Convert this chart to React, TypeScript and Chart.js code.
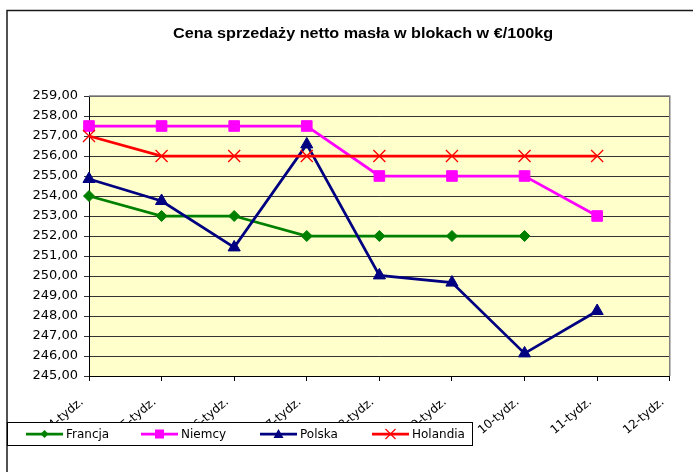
import React, { useEffect, useRef } from "react";
import { Chart, registerables } from "chart.js";

Chart.register(...registerables);

const titleText = "Cena sprzedaży netto masła w blokach w €/100kg";
const categories = ["4-tydz.", "5-tydz.", "6-tydz.", "7-tydz.", "8-tydz.", "9-tydz.", "10-tydz.", "11-tydz.", "12-tydz."];
const seriesNames = ["Francja", "Niemcy", "Polska", "Holandia"];
const francja = [254, 253, 253, 252, 252, 252, 252, null, null];
const niemcy = [257.5, 257.5, 257.5, 257.5, 255, 255, 255, 253, null];
const polska = [254.85, 253.75, 251.43, 256.58, 250.03, 249.67, 246.13, 248.25, null];
const holandia = [257, 256, 256, 256, 256, 256, 256, 256, null];
const yMin = 245;
const yMax = 259;
const yStep = 1;

const colors = ["#008000", "#FF00FF", "#000080", "#FF0000"];
const styles = ["rectRot", "rect", "triangle", "crossRot"];
const FONT = "'DejaVu Sans', Arial, sans-serif";

function drawMarker(ctx: CanvasRenderingContext2D, style: string, x: number, y: number, color: string) {
  ctx.save();
  ctx.fillStyle = color;
  ctx.strokeStyle = color;
  ctx.beginPath();
  if (style === "rectRot") {
    const r = 4;
    ctx.moveTo(x, y - r);
    ctx.lineTo(x + r, y);
    ctx.lineTo(x, y + r);
    ctx.lineTo(x - r, y);
    ctx.closePath();
    ctx.fill();
  } else if (style === "rect") {
    const r = 4.5;
    ctx.rect(x - r, y - r, 2 * r, 2 * r);
    ctx.fill();
  } else if (style === "triangle") {
    const r = 5;
    ctx.moveTo(x, y - r);
    ctx.lineTo(x + r, y + r * 0.8);
    ctx.lineTo(x - r, y + r * 0.8);
    ctx.closePath();
    ctx.fill();
  } else {
    const r = 5;
    ctx.lineWidth = 1.2;
    ctx.moveTo(x - r, y - r);
    ctx.lineTo(x + r, y + r);
    ctx.moveTo(x + r, y - r);
    ctx.lineTo(x - r, y + r);
    ctx.stroke();
  }
  ctx.restore();
}

const decorPlugin = {
  id: "decor",
  beforeDraw(chart: any) {
    const { ctx, chartArea } = chart;
    ctx.save();
    ctx.fillStyle = "#FFFFFF";
    ctx.fillRect(0, 0, chart.width, chart.height);
    ctx.fillStyle = "#FFFFCC";
    ctx.fillRect(chartArea.left, chartArea.top, chartArea.right - chartArea.left, chartArea.bottom - chartArea.top);
    // outer border
    ctx.strokeStyle = "#1a1a1a";
    ctx.lineWidth = 1.5;
    ctx.strokeRect(7, 10.5, chart.width + 20, chart.height + 20);
    // title
    ctx.fillStyle = "#000";
    ctx.font = "bold 14px Arial, 'Liberation Sans', sans-serif";
    ctx.textAlign = "center";
    ctx.textBaseline = "middle";
    const w = ctx.measureText(titleText).width;
    ctx.translate(363, 34.5);
    ctx.scale(380 / w, 1);
    ctx.fillText(titleText, 0, 0);
    ctx.restore();
  },
  beforeDatasetsDraw(chart: any) {
    const { ctx, chartArea } = chart;
    ctx.save();
    ctx.strokeStyle = "#808080";
    ctx.lineWidth = 1.5;
    ctx.beginPath();
    ctx.moveTo(chartArea.left, chartArea.top);
    ctx.lineTo(chartArea.right, chartArea.top);
    ctx.lineTo(chartArea.right, chartArea.bottom);
    ctx.stroke();
    ctx.restore();
  },
  afterDraw(chart: any) {
    const { ctx } = chart;
    ctx.save();
    ctx.fillStyle = "#FFFFFF";
    ctx.fillRect(7, 422, 466, 24);
    ctx.strokeStyle = "#000";
    ctx.lineWidth = 1;
    ctx.strokeRect(7.5, 422.5, 465, 23);
    const xs = [26, 141, 260, 372];
    const y = 434;
    ctx.font = "12px " + FONT;
    ctx.textAlign = "left";
    ctx.textBaseline = "middle";
    seriesNames.forEach((name, i) => {
      ctx.strokeStyle = colors[i];
      ctx.lineWidth = 2.75;
      ctx.beginPath();
      ctx.moveTo(xs[i], y);
      ctx.lineTo(xs[i] + 37, y);
      ctx.stroke();
      drawMarker(ctx, styles[i], xs[i] + 18.5, y, colors[i]);
      ctx.fillStyle = "#000";
      ctx.fillText(name, xs[i] + 40, y + 0.5);
    });
    ctx.restore();
  },
};

export default function App() {
  const ref = useRef<HTMLCanvasElement>(null);
  useEffect(() => {
    document.body.style.margin = "0";
    const canvas = ref.current!;
    const data = [francja, niemcy, polska, holandia];
    const radii = [5.5, 7.5, 7, 8.5];
    const chart = new Chart(canvas, {
      type: "line",
      data: {
        labels: categories,
        datasets: seriesNames.map((name, i) => ({
          label: name,
          data: data[i],
          borderColor: colors[i],
          backgroundColor: colors[i],
          pointBackgroundColor: colors[i],
          pointBorderColor: colors[i],
          pointStyle: styles[i] as any,
          pointRadius: radii[i],
          pointBorderWidth: i === 3 ? 1.3 : 1,
          borderWidth: 2.75,
          tension: 0,
          spanGaps: false,
          order: 4 - i,
        })),
      },
      options: {
        responsive: false,
        animation: false,
        devicePixelRatio: 1,
        layout: { padding: { left: 0, right: 22, top: 96, bottom: 0 } },
        plugins: {
          legend: { display: false },
          title: { display: false },
          tooltip: { enabled: false },
        },
        scales: {
          x: {
            offset: false,
            grid: {
              drawOnChartArea: false,
              drawTicks: true,
              tickLength: 5,
              color: "#000",
            },
            border: { color: "#000", width: 1 },
            ticks: {
              autoSkip: false,
              maxRotation: 40,
              minRotation: 40,
              padding: 14,
              labelOffset: -7,
              color: "#000",
              font: { family: FONT, size: 12 },
            },
            afterFit: (s: any) => {
              s.height = 96;
            },
          },
          y: {
            min: yMin,
            max: yMax,
            grid: { color: "#333", lineWidth: 1, tickLength: 5 },
            border: { color: "#000", width: 1 },
            ticks: {
              stepSize: yStep,
              padding: 6,
              color: "#000",
              font: { family: FONT, size: 13 },
              callback: (v: any) => Number(v).toFixed(2).replace(".", ","),
            },
            afterFit: (s: any) => {
              s.width = 89;
            },
          },
        },
      },
      plugins: [decorPlugin],
    });
    return () => chart.destroy();
  }, []);
  return <canvas ref={ref} width={693} height={472} style={{ display: "block" }} />;
}
